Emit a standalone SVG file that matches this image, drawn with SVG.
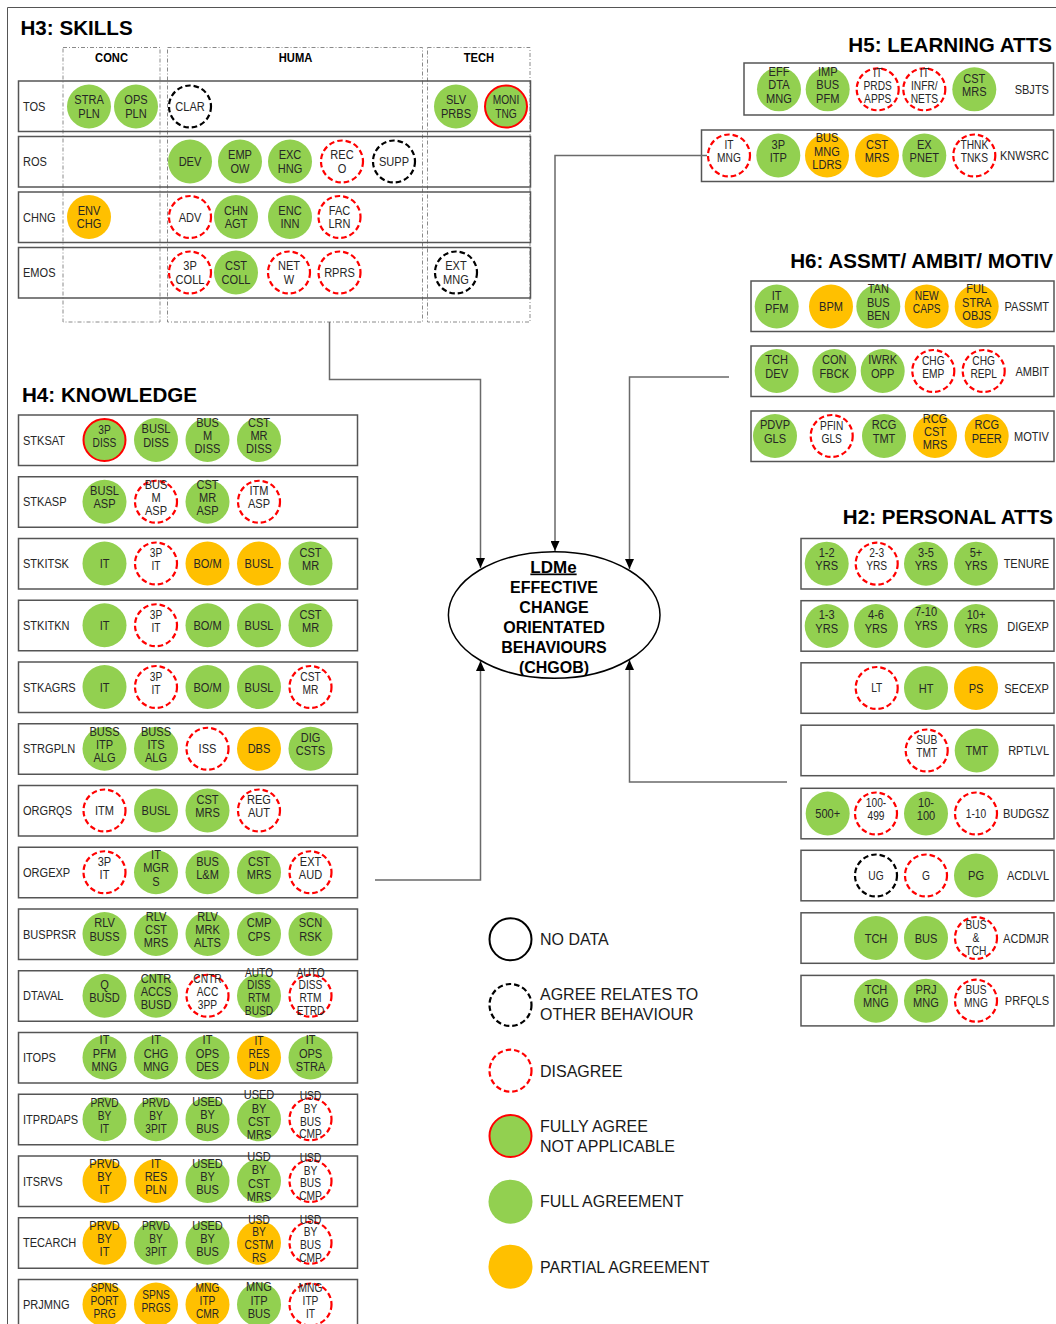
<svg xmlns="http://www.w3.org/2000/svg" width="1056" height="1324" viewBox="0 0 1056 1324">
<style>
.frame{fill:none;stroke:#555;stroke-width:1}
.box{fill:#fff;stroke:#555;stroke-width:1.5}
.col{fill:none;stroke:#8a8a8a;stroke-width:1;stroke-dasharray:4 2 1 2}
.g{fill:#92D050}
.o{fill:#FFC000}
.gr{fill:#92D050;stroke:#FF0000;stroke-width:2}
.r{fill:#fff;stroke:#FF0000;stroke-width:2.2;stroke-dasharray:5.5 3}
.k{fill:#fff;stroke:#000;stroke-width:2.2;stroke-dasharray:5.5 3}
.nd{fill:#fff;stroke:#000;stroke-width:2}
.c{font-family:"Liberation Sans",Arial,sans-serif;font-size:13px;fill:#262626;text-anchor:middle;transform-box:fill-box;transform-origin:center;transform:scaleX(0.85)}
.s{font-size:12px}
.rl{font-family:"Liberation Sans",Arial,sans-serif;font-size:13px;fill:#262626;transform-box:fill-box;transform-origin:left center;transform:scaleX(0.85)}
.re{text-anchor:end;transform-origin:right center}
.ch{font-family:"Liberation Sans",Arial,sans-serif;font-size:13px;font-weight:bold;fill:#000;text-anchor:middle;transform-box:fill-box;transform-origin:center;transform:scaleX(0.86)}
.h{font-family:"Liberation Sans",Arial,sans-serif;font-weight:bold;font-size:20.6px;fill:#000}
.he{text-anchor:end}
.lg{font-family:"Liberation Sans",Arial,sans-serif;font-size:16px;fill:#1a1a1a}
.el{fill:#fff;stroke:#000;stroke-width:1.5}
.et{font-family:"Liberation Sans",Arial,sans-serif;font-weight:bold;font-size:16px;fill:#000;text-anchor:middle}
.con{fill:none;stroke:#6a6a6a;stroke-width:1.5;marker-end:url(#arr)}
</style>
<defs>
<marker id="arr" markerUnits="userSpaceOnUse" markerWidth="10" markerHeight="9" refX="10" refY="4.5" orient="auto">
<path d="M0,0 L10,4.5 L0,9 z" fill="#000"/>
</marker>
</defs>

<rect width="1056" height="1324" fill="#fff"/>
<path class="frame" d="M7.5,1324 V7.5 H1056"/>

<!-- H3 skills -->
<g id="h3">
<text class="h" x="20.5" y="34.5">H3: SKILLS</text>
<rect class="col" x="63" y="47.5" width="97" height="274.5"/>
<rect class="col" x="167.5" y="47.5" width="255" height="274.5"/>
<rect class="col" x="427.5" y="47.5" width="102.5" height="274.5"/>
<text class="ch" x="111.5" y="62">CONC</text>
<text class="ch" x="295.5" y="62">HUMA</text>
<text class="ch" x="479" y="62">TECH</text>
</g>
<g id="h3-tos">
<rect class="box" x="18.5" y="81" width="512" height="50.5" style="fill:none"/>
<text class="rl" x="23" y="111.1">TOS</text>
<circle class="g" cx="89" cy="106.5" r="22"/><text class="c" y="104.45"><tspan x="89">STRA</tspan><tspan x="89" dy="13.3">PLN</tspan></text>
<circle class="g" cx="136" cy="106.5" r="22"/><text class="c" y="104.45"><tspan x="136">OPS</tspan><tspan x="136" dy="13.3">PLN</tspan></text>
<circle class="k" cx="190" cy="106.5" r="21"/><text class="c" x="190" y="111.1">CLAR</text>
<circle class="g" cx="456" cy="106.5" r="22"/><text class="c" y="104.45"><tspan x="456">SLV</tspan><tspan x="456" dy="13.3">PRBS</tspan></text>
<circle class="gr" cx="506" cy="106.5" r="21"/><text class="c s" y="104.45"><tspan x="506">MONI</tspan><tspan x="506" dy="13.3">TNG</tspan></text>
</g>
<g id="h3-ros">
<rect class="box" x="18.5" y="136.5" width="512" height="50.5" style="fill:none"/>
<text class="rl" x="23" y="166.1">ROS</text>
<circle class="g" cx="190" cy="161.5" r="22"/><text class="c" x="190" y="166.1">DEV</text>
<circle class="g" cx="240" cy="161.5" r="22"/><text class="c" y="159.45"><tspan x="240">EMP</tspan><tspan x="240" dy="13.3">OW</tspan></text>
<circle class="g" cx="290" cy="161.5" r="22"/><text class="c" y="159.45"><tspan x="290">EXC</tspan><tspan x="290" dy="13.3">HNG</tspan></text>
<circle class="r" cx="342" cy="161.5" r="21"/><text class="c" y="159.45"><tspan x="342">REC</tspan><tspan x="342" dy="13.3">O</tspan></text>
<circle class="k" cx="394" cy="161.5" r="21"/><text class="c" x="394" y="166.1">SUPP</text>
</g>
<g id="h3-chng">
<rect class="box" x="18.5" y="192" width="512" height="50.5" style="fill:none"/>
<text class="rl" x="23" y="221.6">CHNG</text>
<circle class="o" cx="89" cy="217" r="22"/><text class="c" y="214.95"><tspan x="89">ENV</tspan><tspan x="89" dy="13.3">CHG</tspan></text>
<circle class="r" cx="190" cy="217" r="21"/><text class="c" x="190" y="221.6">ADV</text>
<circle class="g" cx="236" cy="217" r="22"/><text class="c" y="214.95"><tspan x="236">CHN</tspan><tspan x="236" dy="13.3">AGT</tspan></text>
<circle class="g" cx="290" cy="217" r="22"/><text class="c" y="214.95"><tspan x="290">ENC</tspan><tspan x="290" dy="13.3">INN</tspan></text>
<circle class="r" cx="339.5" cy="217" r="21"/><text class="c" y="214.95"><tspan x="339.5">FAC</tspan><tspan x="339.5" dy="13.3">LRN</tspan></text>
</g>
<g id="h3-emos">
<rect class="box" x="18.5" y="247.5" width="512" height="50.5" style="fill:none"/>
<text class="rl" x="23" y="277.1">EMOS</text>
<circle class="r" cx="190" cy="272.5" r="21"/><text class="c" y="270.45"><tspan x="190">3P</tspan><tspan x="190" dy="13.3">COLL</tspan></text>
<circle class="g" cx="236" cy="272.5" r="22"/><text class="c" y="270.45"><tspan x="236">CST</tspan><tspan x="236" dy="13.3">COLL</tspan></text>
<circle class="r" cx="289" cy="272.5" r="21"/><text class="c" y="270.45"><tspan x="289">NET</tspan><tspan x="289" dy="13.3">W</tspan></text>
<circle class="r" cx="339.5" cy="272.5" r="21"/><text class="c" x="339.5" y="277.1">RPRS</text>
<circle class="k" cx="456" cy="272.5" r="21"/><text class="c" y="270.45"><tspan x="456">EXT</tspan><tspan x="456" dy="13.3">MNG</tspan></text>
</g>

<!-- H5 learning attitudes -->
<text class="h he" x="1052" y="52">H5: LEARNING ATTS</text>
<g id="h5-sbjts">
<rect class="box" x="744" y="63" width="309.5" height="52"/>
<circle class="g" cx="779" cy="89.3" r="22"/><text class="c" y="76.1"><tspan x="779">EFF</tspan><tspan x="779" dy="13.3">DTA</tspan><tspan x="779" dy="13.3">MNG</tspan></text>
<circle class="g" cx="827.7" cy="89.3" r="22"/><text class="c" y="76.1"><tspan x="827.7">IMP</tspan><tspan x="827.7" dy="13.3">BUS</tspan><tspan x="827.7" dy="13.3">PFM</tspan></text>
<circle class="r" cx="877.7" cy="89.3" r="21"/><text class="c s" y="76.6"><tspan x="877.7">IT</tspan><tspan x="877.7" dy="13">PRDS</tspan><tspan x="877.7" dy="13">APPS</tspan></text>
<circle class="r" cx="924.3" cy="89.3" r="21"/><text class="c s" y="76.6"><tspan x="924.3">IT</tspan><tspan x="924.3" dy="13">INFR/</tspan><tspan x="924.3" dy="13">NETS</tspan></text>
<circle class="g" cx="974.3" cy="89.3" r="22"/><text class="c" y="82.75"><tspan x="974.3">CST</tspan><tspan x="974.3" dy="13.3">MRS</tspan></text>
<text class="rl re" x="1049" y="93.9">SBJTS</text>
</g>
<g id="h5-knwsrc">
<rect class="box" x="701.5" y="130" width="352" height="51.5"/>
<circle class="r" cx="729" cy="155.5" r="21"/><text class="c s" y="149.2"><tspan x="729">IT</tspan><tspan x="729" dy="13">MNG</tspan></text>
<circle class="g" cx="778.3" cy="155.5" r="22"/><text class="c" y="148.95"><tspan x="778.3">3P</tspan><tspan x="778.3" dy="13.3">ITP</tspan></text>
<circle class="o" cx="827" cy="155.5" r="22"/><text class="c" y="142.3"><tspan x="827">BUS</tspan><tspan x="827" dy="13.3">MNG</tspan><tspan x="827" dy="13.3">LDRS</tspan></text>
<circle class="o" cx="877" cy="155.5" r="22"/><text class="c" y="148.95"><tspan x="877">CST</tspan><tspan x="877" dy="13.3">MRS</tspan></text>
<circle class="g" cx="924.3" cy="155.5" r="22"/><text class="c" y="148.95"><tspan x="924.3">EX</tspan><tspan x="924.3" dy="13.3">PNET</tspan></text>
<circle class="r" cx="974.3" cy="155.5" r="21"/><text class="c s" y="149.2"><tspan x="974.3">THNK</tspan><tspan x="974.3" dy="13">TNKS</tspan></text>
<text class="rl re" x="1049" y="160.1">KNWSRC</text>
</g>

<!-- H6 assessment / ambition / motivation -->
<text class="h he" x="1053" y="267.5">H6: ASSMT/ AMBIT/ MOTIV</text>
<g id="h6-passmt">
<rect class="box" x="751" y="281" width="303" height="50.5"/>
<circle class="g" cx="776.7" cy="306.5" r="22"/><text class="c" y="299.95"><tspan x="776.7">IT</tspan><tspan x="776.7" dy="13.3">PFM</tspan></text>
<circle class="o" cx="831" cy="306.5" r="22"/><text class="c" x="831" y="311.1">BPM</text>
<circle class="g" cx="878.3" cy="306.5" r="22"/><text class="c" y="293.3"><tspan x="878.3">TAN</tspan><tspan x="878.3" dy="13.3">BUS</tspan><tspan x="878.3" dy="13.3">BEN</tspan></text>
<circle class="o" cx="926.7" cy="306.5" r="22"/><text class="c s" y="300.2"><tspan x="926.7">NEW</tspan><tspan x="926.7" dy="13">CAPS</tspan></text>
<circle class="o" cx="976.7" cy="306.5" r="22"/><text class="c" y="293.3"><tspan x="976.7">FUL</tspan><tspan x="976.7" dy="13.3">STRA</tspan><tspan x="976.7" dy="13.3">OBJS</tspan></text>
<text class="rl re" x="1049" y="311.1">PASSMT</text>
</g>
<g id="h6-ambit">
<rect class="box" x="751" y="346" width="303" height="50.5"/>
<circle class="g" cx="776.7" cy="371" r="22"/><text class="c" y="364.45"><tspan x="776.7">TCH</tspan><tspan x="776.7" dy="13.3">DEV</tspan></text>
<circle class="g" cx="834.3" cy="371" r="22"/><text class="c" y="364.45"><tspan x="834.3">CON</tspan><tspan x="834.3" dy="13.3">FBCK</tspan></text>
<circle class="g" cx="882.7" cy="371" r="22"/><text class="c" y="364.45"><tspan x="882.7">IWRK</tspan><tspan x="882.7" dy="13.3">OPP</tspan></text>
<circle class="r" cx="933.3" cy="371" r="21"/><text class="c s" y="364.7"><tspan x="933.3">CHG</tspan><tspan x="933.3" dy="13">EMP</tspan></text>
<circle class="r" cx="983.7" cy="371" r="21"/><text class="c s" y="364.7"><tspan x="983.7">CHG</tspan><tspan x="983.7" dy="13">REPL</tspan></text>
<text class="rl re" x="1049" y="375.6">AMBIT</text>
</g>
<g id="h6-motiv">
<rect class="box" x="751" y="411" width="303" height="50.5"/>
<circle class="g" cx="775" cy="436" r="22"/><text class="c" y="429.45"><tspan x="775">PDVP</tspan><tspan x="775" dy="13.3">GLS</tspan></text>
<circle class="r" cx="831.7" cy="436" r="21"/><text class="c s" y="429.7"><tspan x="831.7">PFIN</tspan><tspan x="831.7" dy="13">GLS</tspan></text>
<circle class="g" cx="884" cy="436" r="22"/><text class="c" y="429.45"><tspan x="884">RCG</tspan><tspan x="884" dy="13.3">TMT</tspan></text>
<circle class="o" cx="935" cy="436" r="22"/><text class="c" y="422.8"><tspan x="935">RCG</tspan><tspan x="935" dy="13.3">CST</tspan><tspan x="935" dy="13.3">MRS</tspan></text>
<circle class="o" cx="986.7" cy="436" r="22"/><text class="c" y="429.45"><tspan x="986.7">RCG</tspan><tspan x="986.7" dy="13.3">PEER</tspan></text>
<text class="rl re" x="1049" y="440.6">MOTIV</text>
</g>

<!-- H2 personal attributes -->
<text class="h he" x="1053" y="524">H2: PERSONAL ATTS</text>
<g id="h2-tenure">
<rect class="box" x="801" y="538.5" width="253" height="50.5"/>
<circle class="g" cx="826.7" cy="563.7" r="22"/><text class="c" y="557.15"><tspan x="826.7">1-2</tspan><tspan x="826.7" dy="13.3">YRS</tspan></text>
<circle class="r" cx="876.7" cy="563.7" r="21"/><text class="c s" y="557.4"><tspan x="876.7">2-3</tspan><tspan x="876.7" dy="13">YRS</tspan></text>
<circle class="g" cx="926" cy="563.7" r="22"/><text class="c" y="557.15"><tspan x="926">3-5</tspan><tspan x="926" dy="13.3">YRS</tspan></text>
<circle class="g" cx="976" cy="563.7" r="22"/><text class="c" y="557.15"><tspan x="976">5+</tspan><tspan x="976" dy="13.3">YRS</tspan></text>
<text class="rl re" x="1049" y="568.3">TENURE</text>
</g>
<g id="h2-digexp">
<rect class="box" x="801" y="600.7" width="253" height="50.5"/>
<circle class="g" cx="826.7" cy="626" r="22"/><text class="c" y="619.45"><tspan x="826.7">1-3</tspan><tspan x="826.7" dy="13.3">YRS</tspan></text>
<circle class="g" cx="876" cy="626" r="22"/><text class="c" y="619.45"><tspan x="876">4-6</tspan><tspan x="876" dy="13.3">YRS</tspan></text>
<circle class="g" cx="926" cy="626" r="22"/><text class="c" y="616.5"><tspan x="926">7-10</tspan><tspan x="926" dy="13.3">YRS</tspan></text>
<circle class="g" cx="976" cy="626" r="22"/><text class="c" y="619.45"><tspan x="976">10+</tspan><tspan x="976" dy="13.3">YRS</tspan></text>
<text class="rl re" x="1049" y="630.6">DIGEXP</text>
</g>
<g id="h2-secexp">
<rect class="box" x="801" y="662.8" width="253" height="50.5"/>
<circle class="r" cx="876.7" cy="688" r="21"/><text class="c s" x="876.7" y="692.4">LT</text>
<circle class="g" cx="926" cy="688" r="22"/><text class="c" x="926" y="692.6">HT</text>
<circle class="o" cx="976" cy="688" r="22"/><text class="c" x="976" y="692.6">PS</text>
<text class="rl re" x="1049" y="692.6">SECEXP</text>
</g>
<g id="h2-rptlvl">
<rect class="box" x="801" y="725.2" width="253" height="50.5"/>
<circle class="r" cx="926.7" cy="750.5" r="21"/><text class="c s" y="744.2"><tspan x="926.7">SUB</tspan><tspan x="926.7" dy="13">TMT</tspan></text>
<circle class="g" cx="976.7" cy="750.5" r="22"/><text class="c" x="976.7" y="755.1">TMT</text>
<text class="rl re" x="1049" y="755.1">RPTLVL</text>
</g>
<g id="h2-budgsz">
<rect class="box" x="801" y="788.3" width="253" height="50.5"/>
<circle class="g" cx="827.7" cy="813.5" r="22"/><text class="c" x="827.7" y="818.1">500+</text>
<circle class="r" cx="876" cy="813.5" r="21"/><text class="c s" y="807.2"><tspan x="876">100-</tspan><tspan x="876" dy="13">499</tspan></text>
<circle class="g" cx="926" cy="813.5" r="22"/><text class="c" y="806.95"><tspan x="926">10-</tspan><tspan x="926" dy="13.3">100</tspan></text>
<circle class="r" cx="976" cy="813.5" r="21"/><text class="c s" x="976" y="817.9">1-10</text>
<text class="rl re" x="1049" y="818.1">BUDGSZ</text>
</g>
<g id="h2-acdlvl">
<rect class="box" x="801" y="850.3" width="253" height="50.5"/>
<circle class="k" cx="876" cy="875.5" r="21"/><text class="c s" x="876" y="879.9">UG</text>
<circle class="r" cx="926" cy="875.5" r="21"/><text class="c s" x="926" y="879.9">G</text>
<circle class="g" cx="976" cy="875.5" r="22"/><text class="c" x="976" y="880.1">PG</text>
<text class="rl re" x="1049" y="880.1">ACDLVL</text>
</g>
<g id="h2-acdmjr">
<rect class="box" x="801" y="912.8" width="253" height="50.5"/>
<circle class="g" cx="876" cy="938" r="22"/><text class="c" x="876" y="942.6">TCH</text>
<circle class="g" cx="926" cy="938" r="22"/><text class="c" x="926" y="942.6">BUS</text>
<circle class="r" cx="976" cy="938" r="21"/><text class="c s" y="929.4"><tspan x="976">BUS</tspan><tspan x="976" dy="13">&amp;</tspan><tspan x="976" dy="13">TCH</tspan></text>
<text class="rl re" x="1049" y="942.6">ACDMJR</text>
</g>
<g id="h2-prfqls">
<rect class="box" x="801" y="975.4" width="253" height="50.5"/>
<circle class="g" cx="876" cy="1000.7" r="22"/><text class="c" y="994.15"><tspan x="876">TCH</tspan><tspan x="876" dy="13.3">MNG</tspan></text>
<circle class="g" cx="926" cy="1000.7" r="22"/><text class="c" y="994.15"><tspan x="926">PRJ</tspan><tspan x="926" dy="13.3">MNG</tspan></text>
<circle class="r" cx="976" cy="1000.7" r="21"/><text class="c s" y="994.4"><tspan x="976">BUS</tspan><tspan x="976" dy="13">MNG</tspan></text>
<text class="rl re" x="1049" y="1005.3">PRFQLS</text>
</g>

<!-- H4 knowledge -->
<text class="h" x="22" y="401.5">H4: KNOWLEDGE</text>
<g id="h4-stksat">
<rect class="box" x="18.5" y="415" width="339" height="50.5"/>
<text class="rl" x="23" y="444.6">STKSAT</text>
<circle class="gr" cx="104.5" cy="440" r="21"/><text class="c s" y="434.2"><tspan x="104.5">3P</tspan><tspan x="104.5" dy="13">DISS</tspan></text>
<circle class="g" cx="156" cy="440" r="22"/><text class="c" y="433.45"><tspan x="156">BUSL</tspan><tspan x="156" dy="13.3">DISS</tspan></text>
<circle class="g" cx="207.5" cy="440" r="22"/><text class="c" y="426.8"><tspan x="207.5">BUS</tspan><tspan x="207.5" dy="13.3">M</tspan><tspan x="207.5" dy="13.3">DISS</tspan></text>
<circle class="g" cx="259" cy="440" r="22"/><text class="c" y="426.8"><tspan x="259">CST</tspan><tspan x="259" dy="13.3">MR</tspan><tspan x="259" dy="13.3">DISS</tspan></text>
</g>
<g id="h4-stkasp">
<rect class="box" x="18.5" y="476.75" width="339" height="50.5"/>
<text class="rl" x="23" y="506.35">STKASP</text>
<circle class="g" cx="104.5" cy="501.75" r="22"/><text class="c" y="495.2"><tspan x="104.5">BUSL</tspan><tspan x="104.5" dy="13.3">ASP</tspan></text>
<circle class="r" cx="156" cy="501.75" r="21"/><text class="c" y="488.55"><tspan x="156">BUS</tspan><tspan x="156" dy="13.3">M</tspan><tspan x="156" dy="13.3">ASP</tspan></text>
<circle class="g" cx="207.5" cy="501.75" r="22"/><text class="c" y="488.55"><tspan x="207.5">CST</tspan><tspan x="207.5" dy="13.3">MR</tspan><tspan x="207.5" dy="13.3">ASP</tspan></text>
<circle class="r" cx="259" cy="501.75" r="21"/><text class="c" y="495.2"><tspan x="259">ITM</tspan><tspan x="259" dy="13.3">ASP</tspan></text>
</g>
<g id="h4-stkitsk">
<rect class="box" x="18.5" y="538.5" width="339" height="50.5"/>
<text class="rl" x="23" y="568.1">STKITSK</text>
<circle class="g" cx="104.5" cy="563.5" r="22"/><text class="c" x="104.5" y="568.1">IT</text>
<circle class="r" cx="156" cy="563.5" r="21"/><text class="c s" y="557.2"><tspan x="156">3P</tspan><tspan x="156" dy="13">IT</tspan></text>
<circle class="o" cx="207.5" cy="563.5" r="22"/><text class="c" x="207.5" y="568.1">BO/M</text>
<circle class="o" cx="259" cy="563.5" r="22"/><text class="c" x="259" y="568.1">BUSL</text>
<circle class="g" cx="310.5" cy="563.5" r="22"/><text class="c" y="556.95"><tspan x="310.5">CST</tspan><tspan x="310.5" dy="13.3">MR</tspan></text>
</g>
<g id="h4-stkitkn">
<rect class="box" x="18.5" y="600.25" width="339" height="50.5"/>
<text class="rl" x="23" y="629.85">STKITKN</text>
<circle class="g" cx="104.5" cy="625.25" r="22"/><text class="c" x="104.5" y="629.85">IT</text>
<circle class="r" cx="156" cy="625.25" r="21"/><text class="c s" y="618.95"><tspan x="156">3P</tspan><tspan x="156" dy="13">IT</tspan></text>
<circle class="g" cx="207.5" cy="625.25" r="22"/><text class="c" x="207.5" y="629.85">BO/M</text>
<circle class="g" cx="259" cy="625.25" r="22"/><text class="c" x="259" y="629.85">BUSL</text>
<circle class="g" cx="310.5" cy="625.25" r="22"/><text class="c" y="618.7"><tspan x="310.5">CST</tspan><tspan x="310.5" dy="13.3">MR</tspan></text>
</g>
<g id="h4-stkagrs">
<rect class="box" x="18.5" y="662" width="339" height="50.5"/>
<text class="rl" x="23" y="691.6">STKAGRS</text>
<circle class="g" cx="104.5" cy="687" r="22"/><text class="c" x="104.5" y="691.6">IT</text>
<circle class="r" cx="156" cy="687" r="21"/><text class="c s" y="680.7"><tspan x="156">3P</tspan><tspan x="156" dy="13">IT</tspan></text>
<circle class="g" cx="207.5" cy="687" r="22"/><text class="c" x="207.5" y="691.6">BO/M</text>
<circle class="g" cx="259" cy="687" r="22"/><text class="c" x="259" y="691.6">BUSL</text>
<circle class="r" cx="310.5" cy="687" r="21"/><text class="c s" y="680.7"><tspan x="310.5">CST</tspan><tspan x="310.5" dy="13">MR</tspan></text>
</g>
<g id="h4-strgpln">
<rect class="box" x="18.5" y="723.75" width="339" height="50.5"/>
<text class="rl" x="23" y="753.35">STRGPLN</text>
<circle class="g" cx="104.5" cy="748.75" r="22"/><text class="c" y="735.55"><tspan x="104.5">BUSS</tspan><tspan x="104.5" dy="13.3">ITP</tspan><tspan x="104.5" dy="13.3">ALG</tspan></text>
<circle class="g" cx="156" cy="748.75" r="22"/><text class="c" y="735.55"><tspan x="156">BUSS</tspan><tspan x="156" dy="13.3">ITS</tspan><tspan x="156" dy="13.3">ALG</tspan></text>
<circle class="r" cx="207.5" cy="748.75" r="21"/><text class="c" x="207.5" y="753.35">ISS</text>
<circle class="o" cx="259" cy="748.75" r="22"/><text class="c" x="259" y="753.35">DBS</text>
<circle class="g" cx="310.5" cy="748.75" r="22"/><text class="c" y="742.2"><tspan x="310.5">DIG</tspan><tspan x="310.5" dy="13.3">CSTS</tspan></text>
</g>
<g id="h4-orgrqs">
<rect class="box" x="18.5" y="785.5" width="339" height="50.5"/>
<text class="rl" x="23" y="815.1">ORGRQS</text>
<circle class="r" cx="104.5" cy="810.5" r="21"/><text class="c" x="104.5" y="815.1">ITM</text>
<circle class="g" cx="156" cy="810.5" r="22"/><text class="c" x="156" y="815.1">BUSL</text>
<circle class="g" cx="207.5" cy="810.5" r="22"/><text class="c" y="803.95"><tspan x="207.5">CST</tspan><tspan x="207.5" dy="13.3">MRS</tspan></text>
<circle class="r" cx="259" cy="810.5" r="21"/><text class="c" y="803.95"><tspan x="259">REG</tspan><tspan x="259" dy="13.3">AUT</tspan></text>
</g>
<g id="h4-orgexp">
<rect class="box" x="18.5" y="847.25" width="339" height="50.5"/>
<text class="rl" x="23" y="876.85">ORGEXP</text>
<circle class="r" cx="104.5" cy="872.25" r="21"/><text class="c" y="865.7"><tspan x="104.5">3P</tspan><tspan x="104.5" dy="13.3">IT</tspan></text>
<circle class="g" cx="156" cy="872.25" r="22"/><text class="c" y="859.05"><tspan x="156">IT</tspan><tspan x="156" dy="13.3">MGR</tspan><tspan x="156" dy="13.3">S</tspan></text>
<circle class="g" cx="207.5" cy="872.25" r="22"/><text class="c" y="865.7"><tspan x="207.5">BUS</tspan><tspan x="207.5" dy="13.3">L&amp;M</tspan></text>
<circle class="g" cx="259" cy="872.25" r="22"/><text class="c" y="865.7"><tspan x="259">CST</tspan><tspan x="259" dy="13.3">MRS</tspan></text>
<circle class="r" cx="310.5" cy="872.25" r="21"/><text class="c" y="865.7"><tspan x="310.5">EXT</tspan><tspan x="310.5" dy="13.3">AUD</tspan></text>
</g>
<g id="h4-busprsr">
<rect class="box" x="18.5" y="909" width="339" height="50.5"/>
<text class="rl" x="23" y="938.6">BUSPRSR</text>
<circle class="g" cx="104.5" cy="934" r="22"/><text class="c" y="927.45"><tspan x="104.5">RLV</tspan><tspan x="104.5" dy="13.3">BUSS</tspan></text>
<circle class="g" cx="156" cy="934" r="22"/><text class="c" y="920.8"><tspan x="156">RLV</tspan><tspan x="156" dy="13.3">CST</tspan><tspan x="156" dy="13.3">MRS</tspan></text>
<circle class="g" cx="207.5" cy="934" r="22"/><text class="c" y="920.8"><tspan x="207.5">RLV</tspan><tspan x="207.5" dy="13.3">MRK</tspan><tspan x="207.5" dy="13.3">ALTS</tspan></text>
<circle class="g" cx="259" cy="934" r="22"/><text class="c" y="927.45"><tspan x="259">CMP</tspan><tspan x="259" dy="13.3">CPS</tspan></text>
<circle class="g" cx="310.5" cy="934" r="22"/><text class="c" y="927.45"><tspan x="310.5">SCN</tspan><tspan x="310.5" dy="13.3">RSK</tspan></text>
</g>
<g id="h4-dtaval">
<rect class="box" x="18.5" y="970.75" width="339" height="50.5"/>
<text class="rl" x="23" y="1000.35">DTAVAL</text>
<circle class="g" cx="104.5" cy="995.75" r="22"/><text class="c" y="989.2"><tspan x="104.5">Q</tspan><tspan x="104.5" dy="13.3">BUSD</tspan></text>
<circle class="g" cx="156" cy="995.75" r="22"/><text class="c" y="982.55"><tspan x="156">CNTR</tspan><tspan x="156" dy="13.3">ACCS</tspan><tspan x="156" dy="13.3">BUSD</tspan></text>
<circle class="r" cx="207.5" cy="995.75" r="21"/><text class="c s" y="983.4"><tspan x="207.5">CNTR</tspan><tspan x="207.5" dy="13">ACC</tspan><tspan x="207.5" dy="13">3PP</tspan></text>
<circle class="g" cx="259" cy="995.75" r="22"/><text class="c s" y="976.8"><tspan x="259">AUTO</tspan><tspan x="259" dy="12.7">DISS</tspan><tspan x="259" dy="12.7">RTM</tspan><tspan x="259" dy="12.7">BUSD</tspan></text>
<circle class="r" cx="310.5" cy="995.75" r="21"/><text class="c s" y="976.8"><tspan x="310.5">AUTO</tspan><tspan x="310.5" dy="12.7">DISS</tspan><tspan x="310.5" dy="12.7">RTM</tspan><tspan x="310.5" dy="12.7">ETRD</tspan></text>
</g>
<g id="h4-itops">
<rect class="box" x="18.5" y="1032.5" width="339" height="50.5"/>
<text class="rl" x="23" y="1062.1">ITOPS</text>
<circle class="g" cx="104.5" cy="1057.5" r="22"/><text class="c" y="1044.3"><tspan x="104.5">IT</tspan><tspan x="104.5" dy="13.3">PFM</tspan><tspan x="104.5" dy="13.3">MNG</tspan></text>
<circle class="g" cx="156" cy="1057.5" r="22"/><text class="c" y="1044.3"><tspan x="156">IT</tspan><tspan x="156" dy="13.3">CHG</tspan><tspan x="156" dy="13.3">MNG</tspan></text>
<circle class="g" cx="207.5" cy="1057.5" r="22"/><text class="c" y="1044.3"><tspan x="207.5">IT</tspan><tspan x="207.5" dy="13.3">OPS</tspan><tspan x="207.5" dy="13.3">DES</tspan></text>
<circle class="o" cx="259" cy="1057.5" r="22"/><text class="c s" y="1045"><tspan x="259">IT</tspan><tspan x="259" dy="13">RES</tspan><tspan x="259" dy="13">PLN</tspan></text>
<circle class="g" cx="310.5" cy="1057.5" r="22"/><text class="c" y="1044.3"><tspan x="310.5">IT</tspan><tspan x="310.5" dy="13.3">OPS</tspan><tspan x="310.5" dy="13.3">STRA</tspan></text>
</g>
<g id="h4-itprdaps">
<rect class="box" x="18.5" y="1094.25" width="339" height="50.5"/>
<text class="rl" x="23" y="1123.85">ITPRDAPS</text>
<circle class="g" cx="104.5" cy="1119.25" r="22"/><text class="c s" y="1106.9"><tspan x="104.5">PRVD</tspan><tspan x="104.5" dy="13">BY</tspan><tspan x="104.5" dy="13">IT</tspan></text>
<circle class="g" cx="156" cy="1119.25" r="22"/><text class="c s" y="1106.9"><tspan x="156">PRVD</tspan><tspan x="156" dy="13">BY</tspan><tspan x="156" dy="13">3PIT</tspan></text>
<circle class="g" cx="207.5" cy="1119.25" r="22"/><text class="c" y="1106.05"><tspan x="207.5">USED</tspan><tspan x="207.5" dy="13.3">BY</tspan><tspan x="207.5" dy="13.3">BUS</tspan></text>
<circle class="g" cx="259" cy="1119.25" r="22"/><text class="c" y="1099.4"><tspan x="259">USED</tspan><tspan x="259" dy="13.3">BY</tspan><tspan x="259" dy="13.3">CST</tspan><tspan x="259" dy="13.3">MRS</tspan></text>
<circle class="r" cx="310.5" cy="1119.25" r="21"/><text class="c s" y="1100.3"><tspan x="310.5">USD</tspan><tspan x="310.5" dy="12.7">BY</tspan><tspan x="310.5" dy="12.7">BUS</tspan><tspan x="310.5" dy="12.7">CMP</tspan></text>
</g>
<g id="h4-itsrvs">
<rect class="box" x="18.5" y="1156" width="339" height="50.5"/>
<text class="rl" x="23" y="1185.6">ITSRVS</text>
<circle class="o" cx="104.5" cy="1181" r="22"/><text class="c" y="1167.8"><tspan x="104.5">PRVD</tspan><tspan x="104.5" dy="13.3">BY</tspan><tspan x="104.5" dy="13.3">IT</tspan></text>
<circle class="o" cx="156" cy="1181" r="22"/><text class="c" y="1167.8"><tspan x="156">IT</tspan><tspan x="156" dy="13.3">RES</tspan><tspan x="156" dy="13.3">PLN</tspan></text>
<circle class="g" cx="207.5" cy="1181" r="22"/><text class="c" y="1167.8"><tspan x="207.5">USED</tspan><tspan x="207.5" dy="13.3">BY</tspan><tspan x="207.5" dy="13.3">BUS</tspan></text>
<circle class="g" cx="259" cy="1181" r="22"/><text class="c" y="1161.15"><tspan x="259">USD</tspan><tspan x="259" dy="13.3">BY</tspan><tspan x="259" dy="13.3">CST</tspan><tspan x="259" dy="13.3">MRS</tspan></text>
<circle class="r" cx="310.5" cy="1181" r="21"/><text class="c s" y="1162"><tspan x="310.5">USD</tspan><tspan x="310.5" dy="12.7">BY</tspan><tspan x="310.5" dy="12.7">BUS</tspan><tspan x="310.5" dy="12.7">CMP</tspan></text>
</g>
<g id="h4-tecarch">
<rect class="box" x="18.5" y="1217.75" width="339" height="50.5"/>
<text class="rl" x="23" y="1247.35">TECARCH</text>
<circle class="o" cx="104.5" cy="1242.75" r="22"/><text class="c" y="1229.55"><tspan x="104.5">PRVD</tspan><tspan x="104.5" dy="13.3">BY</tspan><tspan x="104.5" dy="13.3">IT</tspan></text>
<circle class="g" cx="156" cy="1242.75" r="22"/><text class="c s" y="1230.4"><tspan x="156">PRVD</tspan><tspan x="156" dy="13">BY</tspan><tspan x="156" dy="13">3PIT</tspan></text>
<circle class="g" cx="207.5" cy="1242.75" r="22"/><text class="c" y="1229.55"><tspan x="207.5">USED</tspan><tspan x="207.5" dy="13.3">BY</tspan><tspan x="207.5" dy="13.3">BUS</tspan></text>
<circle class="o" cx="259" cy="1242.75" r="22"/><text class="c s" y="1223.8"><tspan x="259">USD</tspan><tspan x="259" dy="12.7">BY</tspan><tspan x="259" dy="12.7">CSTM</tspan><tspan x="259" dy="12.7">RS</tspan></text>
<circle class="r" cx="310.5" cy="1242.75" r="21"/><text class="c s" y="1223.8"><tspan x="310.5">USD</tspan><tspan x="310.5" dy="12.7">BY</tspan><tspan x="310.5" dy="12.7">BUS</tspan><tspan x="310.5" dy="12.7">CMP</tspan></text>
</g>
<g id="h4-prjmng">
<rect class="box" x="18.5" y="1279.5" width="339" height="50.5"/>
<text class="rl" x="23" y="1309.1">PRJMNG</text>
<circle class="o" cx="104.5" cy="1304.5" r="22"/><text class="c s" y="1292.2"><tspan x="104.5">SPNS</tspan><tspan x="104.5" dy="13">PORT</tspan><tspan x="104.5" dy="13">PRG</tspan></text>
<circle class="o" cx="156" cy="1304.5" r="22"/><text class="c s" y="1298.7"><tspan x="156">SPNS</tspan><tspan x="156" dy="13">PRGS</tspan></text>
<circle class="o" cx="207.5" cy="1304.5" r="22"/><text class="c s" y="1292.2"><tspan x="207.5">MNG</tspan><tspan x="207.5" dy="13">ITP</tspan><tspan x="207.5" dy="13">CMR</tspan></text>
<circle class="g" cx="259" cy="1304.5" r="22"/><text class="c" y="1291.3"><tspan x="259">MNG</tspan><tspan x="259" dy="13.3">ITP</tspan><tspan x="259" dy="13.3">BUS</tspan></text>
<circle class="r" cx="310.5" cy="1304.5" r="21"/><text class="c s" y="1292.2"><tspan x="310.5">MNG</tspan><tspan x="310.5" dy="13">ITP</tspan><tspan x="310.5" dy="13">IT</tspan></text>
</g>

<!-- connectors into the central behaviour node -->
<g id="connectors">
<path class="con" d="M329.5,322 V379.5 H480.5 V568"/>
<path class="con" d="M707,155.5 H555 V551"/>
<path class="con" d="M729,377 H629.5 V569"/>
<path class="con" d="M375,880 H480.5 V661"/>
<path class="con" d="M787,782 H629.5 V660"/>
</g>

<!-- central behaviour node -->
<g id="chgob">
<ellipse class="el" cx="554.2" cy="615" rx="105.8" ry="63.3"/>
<text class="et" x="553.5" y="572.5" text-decoration="underline" style="font-size:17px">LDMe</text>
<text class="et" x="554" y="592.5">EFFECTIVE</text>
<text class="et" x="554" y="612.5">CHANGE</text>
<text class="et" x="554" y="632.5">ORIENTATED</text>
<text class="et" x="554" y="652.5">BEHAVIOURS</text>
<text class="et" x="554" y="672.5">(CHGOB)</text>
</g>

<!-- key -->
<g id="legend-nodata">
<circle class="nd" cx="510.5" cy="939.3" r="21"/>
<text class="lg" x="540" y="945">NO DATA</text>
</g>
<g id="legend-other">
<circle class="k" cx="510.5" cy="1005" r="21"/>
<text class="lg" x="540" y="1000">AGREE RELATES TO</text>
<text class="lg" x="540" y="1020">OTHER BEHAVIOUR</text>
</g>
<g id="legend-disagree">
<circle class="r" cx="510.5" cy="1070.7" r="21"/>
<text class="lg" x="540" y="1076.7">DISAGREE</text>
</g>
<g id="legend-na">
<circle class="gr" cx="510.5" cy="1136" r="21"/>
<text class="lg" x="540" y="1132.3">FULLY AGREE</text>
<text class="lg" x="540" y="1152.3">NOT APPLICABLE</text>
</g>
<g id="legend-full">
<circle class="g" cx="510.5" cy="1201.7" r="22"/>
<text class="lg" x="540" y="1207.3">FULL AGREEMENT</text>
</g>
<g id="legend-partial">
<circle class="o" cx="510.5" cy="1266.7" r="22"/>
<text class="lg" x="540" y="1273.3">PARTIAL AGREEMENT</text>
</g>
</svg>
